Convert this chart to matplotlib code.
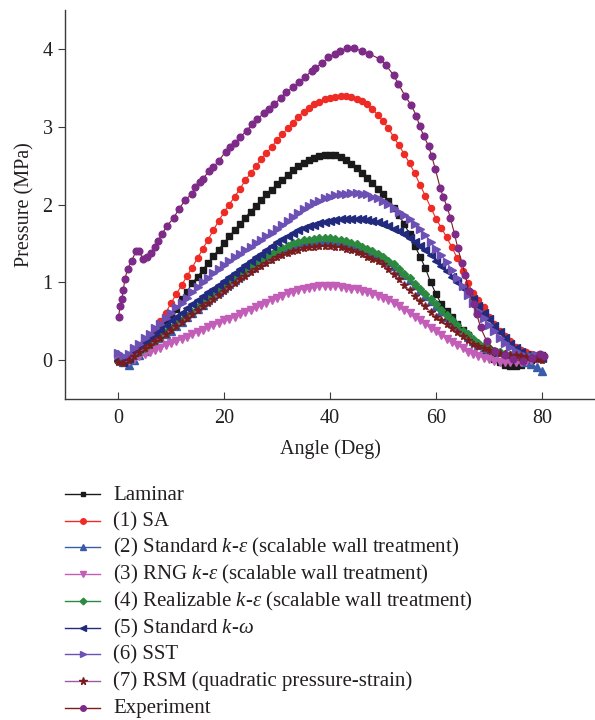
import numpy as np
import matplotlib
matplotlib.use("Agg")
import matplotlib.pyplot as plt
from matplotlib.lines import Line2D

plt.rcParams['font.family'] = ['Liberation Serif', 'DejaVu Serif']
plt.rcParams['mathtext.fontset'] = 'custom'
plt.rcParams['mathtext.it'] = 'Liberation Serif:italic'
plt.rcParams['mathtext.rm'] = 'Liberation Serif'

angle = list(range(0, 81))

laminar = [0.00, -0.02, 0.02, 0.07, 0.13, 0.19, 0.26, 0.33, 0.41, 0.49,
           0.57, 0.66, 0.78, 0.88, 0.99, 1.07, 1.16, 1.25, 1.34, 1.42,
           1.51, 1.59, 1.67, 1.75, 1.83, 1.91, 1.98, 2.06, 2.13, 2.19,
           2.26, 2.32, 2.38, 2.44, 2.49, 2.53, 2.57, 2.60, 2.62, 2.63,
           2.64, 2.63, 2.61, 2.57, 2.52, 2.47, 2.41, 2.34, 2.27, 2.20,
           2.14, 2.05, 1.96, 1.86, 1.75, 1.62, 1.47, 1.33, 1.18, 1.00,
           0.85, 0.72, 0.63, 0.55, 0.47, 0.39, 0.32, 0.25, 0.19, 0.12,
           0.06, 0.01, -0.03, -0.06, -0.08, -0.08, -0.06, -0.03, 0.00, 0.03,
           0.06]

sa = [0.00, 0.02, 0.06, 0.10, 0.15, 0.22, 0.29, 0.38, 0.50, 0.61,
      0.73, 0.85, 0.96, 1.08, 1.19, 1.31, 1.43, 1.55, 1.67, 1.79,
      1.90, 2.00, 2.10, 2.20, 2.31, 2.40, 2.49, 2.58, 2.66, 2.74,
      2.83, 2.90, 2.98, 3.05, 3.13, 3.19, 3.24, 3.29, 3.32, 3.35,
      3.37, 3.38, 3.39, 3.39, 3.38, 3.36, 3.33, 3.29, 3.23, 3.15,
      3.07, 2.98, 2.87, 2.76, 2.65, 2.53, 2.40, 2.25, 2.11, 1.96,
      1.82, 1.70, 1.58, 1.45, 1.31, 1.15, 0.99, 0.86, 0.77, 0.68,
      0.56, 0.46, 0.38, 0.31, 0.24, 0.17, 0.13, 0.10, 0.08, 0.07,
      0.07]

std_ke = [0.08, -0.03, -0.06, 0.00, 0.07, 0.12, 0.18, 0.23, 0.28, 0.33,
          0.38, 0.44, 0.49, 0.55, 0.60, 0.66, 0.71, 0.77, 0.82, 0.88,
          0.93, 0.98, 1.03, 1.08, 1.13, 1.18, 1.23, 1.27, 1.31, 1.35,
          1.39, 1.43, 1.46, 1.48, 1.50, 1.52, 1.53, 1.54, 1.55, 1.55,
          1.55, 1.54, 1.53, 1.51, 1.49, 1.47, 1.44, 1.41, 1.38, 1.34,
          1.30, 1.26, 1.21, 1.15, 1.09, 1.03, 0.96, 0.90, 0.83, 0.76,
          0.70, 0.63, 0.56, 0.49, 0.42, 0.36, 0.30, 0.25, 0.20, 0.16,
          0.14, 0.12, 0.10, 0.08, 0.06, 0.04, 0.01, -0.02, -0.05, -0.09,
          -0.14]

rng_ke = [0.00, -0.02, -0.01, 0.02, 0.05, 0.08, 0.10, 0.13, 0.16, 0.19,
          0.22, 0.24, 0.27, 0.30, 0.33, 0.36, 0.39, 0.42, 0.45, 0.48,
          0.51, 0.53, 0.56, 0.59, 0.62, 0.65, 0.68, 0.71, 0.74, 0.77,
          0.80, 0.83, 0.86, 0.88, 0.90, 0.92, 0.93, 0.94, 0.95, 0.95,
          0.95, 0.95, 0.94, 0.93, 0.92, 0.91, 0.89, 0.87, 0.85, 0.83,
          0.80, 0.77, 0.73, 0.69, 0.65, 0.60, 0.56, 0.51, 0.46, 0.41,
          0.37, 0.32, 0.27, 0.23, 0.19, 0.15, 0.11, 0.08, 0.05, 0.03,
          0.01, -0.01, -0.02, -0.03, -0.03, -0.03, -0.02, -0.01, 0.00, 0.01,
          0.02]

real_ke = [-0.01, -0.02, 0.02, 0.07, 0.11, 0.16, 0.21, 0.26, 0.30, 0.36,
           0.41, 0.46, 0.51, 0.57, 0.62, 0.68, 0.73, 0.79, 0.84, 0.90,
           0.95, 1.00, 1.05, 1.10, 1.15, 1.20, 1.25, 1.29, 1.33, 1.37,
           1.41, 1.44, 1.47, 1.50, 1.52, 1.54, 1.55, 1.56, 1.57, 1.57,
           1.57, 1.56, 1.55, 1.53, 1.51, 1.49, 1.46, 1.43, 1.40, 1.36,
           1.32, 1.28, 1.23, 1.17, 1.11, 1.05, 0.98, 0.92, 0.85, 0.78,
           0.72, 0.65, 0.58, 0.51, 0.45, 0.38, 0.33, 0.27, 0.22, 0.18,
           0.15, 0.12, 0.10, 0.08, 0.07, 0.06, 0.05, 0.05, 0.05, 0.05,
           0.05]

std_kw = [0.00, -0.03, 0.03, 0.10, 0.16, 0.22, 0.28, 0.34, 0.39, 0.45,
          0.51, 0.56, 0.61, 0.67, 0.72, 0.77, 0.82, 0.87, 0.92, 0.97,
          1.02, 1.07, 1.12, 1.17, 1.22, 1.27, 1.32, 1.37, 1.42, 1.47,
          1.52, 1.56, 1.60, 1.64, 1.67, 1.70, 1.72, 1.74, 1.76, 1.78,
          1.79, 1.80, 1.81, 1.81, 1.82, 1.81, 1.81, 1.80, 1.79, 1.77,
          1.75, 1.72, 1.69, 1.66, 1.62, 1.57, 1.52, 1.47, 1.41, 1.35,
          1.28, 1.21, 1.14, 1.07, 1.00, 0.93, 0.86, 0.78, 0.70, 0.61,
          0.53, 0.44, 0.36, 0.28, 0.21, 0.15, 0.10, 0.06, 0.04, 0.03,
          0.03]

sst = [0.09, 0.05, 0.08, 0.15, 0.21, 0.28, 0.34, 0.41, 0.47, 0.54,
       0.61, 0.68, 0.74, 0.80, 0.87, 0.94, 1.00, 1.06, 1.12, 1.17,
       1.22, 1.27, 1.32, 1.36, 1.41, 1.45, 1.50, 1.55, 1.60, 1.64,
       1.69, 1.74, 1.79, 1.84, 1.89, 1.94, 1.98, 2.02, 2.05, 2.08,
       2.10, 2.12, 2.13, 2.14, 2.15, 2.15, 2.14, 2.13, 2.10, 2.08,
       2.05, 2.01, 1.96, 1.91, 1.87, 1.81, 1.75, 1.69, 1.61, 1.52,
       1.43, 1.35, 1.26, 1.16, 1.06, 0.95, 0.84, 0.73, 0.63, 0.54,
       0.45, 0.37, 0.29, 0.22, 0.17, 0.12, 0.08, 0.05, 0.05, 0.06,
       0.07]

rsm = [-0.03, -0.04, 0.00, 0.05, 0.10, 0.15, 0.20, 0.24, 0.29, 0.34,
       0.39, 0.44, 0.49, 0.54, 0.59, 0.64, 0.69, 0.74, 0.79, 0.84,
       0.89, 0.94, 0.99, 1.04, 1.08, 1.13, 1.17, 1.21, 1.25, 1.29,
       1.32, 1.35, 1.38, 1.40, 1.42, 1.44, 1.45, 1.46, 1.47, 1.47,
       1.47, 1.46, 1.45, 1.43, 1.41, 1.39, 1.36, 1.33, 1.30, 1.27,
       1.23, 1.17, 1.11, 1.04, 0.97, 0.90, 0.83, 0.76, 0.69, 0.62,
       0.56, 0.51, 0.46, 0.41, 0.36, 0.31, 0.26, 0.21, 0.18, 0.15,
       0.13, 0.11, 0.09, 0.08, 0.07, 0.06, 0.05, 0.04, 0.03, 0.01,
       0.00]

exp_angle = [0.1, 0.4, 0.7, 1.0, 1.3, 1.8, 2.6, 3.4, 4.0, 4.7,
             5.5, 6.3, 6.9, 7.5, 8.3, 9.2, 10.5, 11.5, 12.7, 14.0,
             14.6, 15.4, 16.1, 17.1, 18.0, 19.0, 20.3, 21.2, 22.1, 23.1,
             24.3, 25.3, 26.3, 27.5, 28.4, 29.5, 30.7, 31.7, 33.1, 34.2,
             35.3, 36.6, 37.2, 38.5, 39.7, 41.0, 41.9, 43.2, 44.6, 46.0,
             47.3, 49.4, 50.6, 52.0, 52.9, 54.2, 55.3, 56.3, 56.9, 57.7,
             58.6, 59.2, 59.9, 60.8, 61.4, 62.1, 62.7, 63.5, 64.1, 64.9,
             65.5, 66.2, 67.1, 67.7, 68.4, 69.6, 71.2, 73.1, 74.6, 76.5,
             78.1, 79.7, 80.3]
exp_pressure = [0.56, 0.69, 0.78, 0.90, 1.04, 1.17, 1.28, 1.40, 1.40, 1.30,
                1.32, 1.38, 1.45, 1.53, 1.62, 1.72, 1.83, 1.94, 2.06, 2.14,
                2.22, 2.29, 2.33, 2.43, 2.48, 2.56, 2.68, 2.74, 2.79, 2.87,
                2.95, 3.03, 3.10, 3.17, 3.23, 3.29, 3.37, 3.44, 3.51, 3.57,
                3.64, 3.72, 3.75, 3.82, 3.89, 3.94, 3.97, 4.01, 4.01, 3.97,
                3.94, 3.87, 3.79, 3.66, 3.55, 3.39, 3.28, 3.14, 3.01, 2.88,
                2.75, 2.62, 2.45, 2.21, 2.09, 1.97, 1.83, 1.62, 1.44, 1.25,
                1.10, 0.89, 0.72, 0.59, 0.42, 0.24, 0.12, 0.07, 0.01, -0.01,
                0.03, 0.08, 0.05]

labels = ["Laminar", "(1) SA",
          r"(2) Standard $k$-$\varepsilon$ (scalable wall treatment)",
          r"(3) RNG $k$-$\varepsilon$ (scalable wall treatment)",
          r"(4) Realizable $k$-$\varepsilon$ (scalable wall treatment)",
          r"(5) Standard $k$-$\omega$",
          "(6) SST",
          "(7) RSM (quadratic pressure-strain)",
          "Experiment"]

text_col = "#231f20"
fig = plt.figure(figsize=(5.95, 7.2), dpi=100)
ax = fig.add_axes([65/595, 1-399/720, 530/595, 389/720])

# (values, marker, line colour, marker colour, marker size)
series = [
    (laminar, "s", "#1a1a1a", "#1a1a1a", 3.8),
    (sa, "o", "#ee2b24", "#ee2b24", 4.4),
    (std_ke, "^", "#3a5ca8", "#3a5ca8", 5.4),
    (rng_ke, "v", "#c25db8", "#c25db8", 5.4),
    (real_ke, "D", "#2b8a3f", "#2b8a3f", 3.8),
    (std_kw, "<", "#212a7c", "#212a7c", 5.4),
    (sst, ">", "#6c50b4", "#6c50b4", 5.4),
    (rsm, "*", "#9c5aa8", "#7a1c1e", 5.8),
]
styles = []
for (vals, mk, lc, mc, ms), lab in zip(series, labels):
    ax.plot(angle, vals, marker=mk, color=lc, mfc=mc, mec=mc, ms=ms, lw=0.8)
    styles.append((mk, lc, mc))
ax.plot(exp_angle, exp_pressure, marker="o", color="#7a1c1e", mfc="#7d2a88",
        mec="#7d2a88", ms=4.8, lw=0.8)
styles.append(("o", "#7a1c1e", "#7d2a88"))

ax.set_xlim(-10, 90)
ax.set_ylim(-0.5, 4.5)
ax.set_xticks([0, 20, 40, 60, 80])
ax.set_yticks([0, 1, 2, 3, 4])
ax.spines["top"].set_visible(False)
ax.spines["right"].set_visible(False)
for s in ["left", "bottom"]:
    ax.spines[s].set_color("#3a3a3a")
    ax.spines[s].set_linewidth(1.0)
ax.tick_params(axis="x", direction="in", length=5, colors="#3a3a3a",
               labelcolor=text_col, labelsize=14.5, pad=7)
ax.tick_params(axis="y", direction="out", length=5, colors="#3a3a3a",
               labelcolor=text_col, labelsize=14.5, pad=4)
ax.set_xlabel("Angle (Deg)", fontsize=14.5, color=text_col, labelpad=8)
ax.set_ylabel("Pressure (MPa)", fontsize=14.5, color=text_col, labelpad=6)

# legend rows drawn by hand so that the rows stay evenly spaced
leg_ms = {"s": 3.4, "o": 4.0, "^": 4.6, "v": 4.6, "D": 3.4, "<": 4.6,
          ">": 4.6, "*": 5.4}
row0, step = 1 - 494/720, 26.7/720
x0, x1, xt = 65/595, 100/595, 113/595
for i, ((mk, lc, mc), lab) in enumerate(zip(styles, labels)):
    y = row0 - i * step
    fig.add_artist(Line2D([x0, x1], [y, y], transform=fig.transFigure,
                          color=lc, lw=1.0))
    fig.add_artist(Line2D([(x0 + x1) / 2], [y], transform=fig.transFigure,
                          marker=mk, mfc=mc, mec=mc, ms=leg_ms[mk], lw=0))
    fig.text(xt, y - 5.5/720, lab, fontsize=15, color=text_col,
             va="baseline", ha="left")

fig.savefig("out.png", dpi=100)
